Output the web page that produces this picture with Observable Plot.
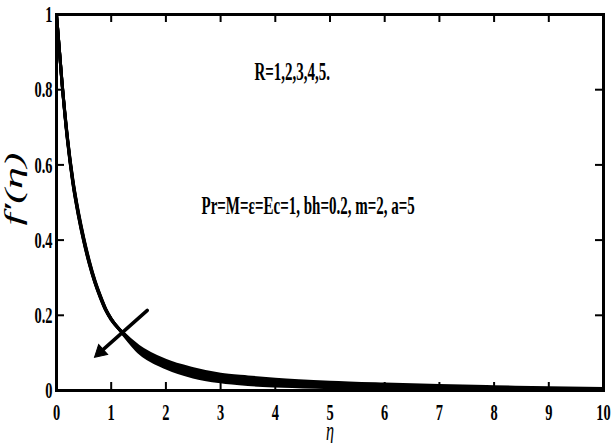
<!DOCTYPE html>
<html><head><meta charset="utf-8">
<script src="https://cdn.jsdelivr.net/npm/d3@7"></script>
<script src="https://cdn.jsdelivr.net/npm/@observablehq/plot@0.6"></script>
<style>html,body{margin:0;padding:0;background:#fff}#chart{width:613px;height:443px}</style>
</head><body><div id="chart"></div>
<script>
// ---- data ----
const eta = [0,0.1,0.2,0.3,0.4,0.5,0.6,0.7,0.8,0.9,1.0,1.2,1.5,2,2.5,3,3.5,4,5,6,7,8,9,10];
const fR1 = [1,0.818,0.665,0.55,0.465,0.395,0.336,0.287,0.247,0.213,0.188,0.156,0.118,0.080,0.058,0.043,0.036,0.030,0.022,0.017,0.013,0.010,0.007,0.005];
const fR2 = [1,0.819,0.667,0.552,0.467,0.397,0.338,0.289,0.249,0.214,0.189,0.155,0.114,0.075,0.052,0.037,0.030,0.024,0.017,0.012,0.009,0.007,0.005,0.003];
const fR3 = [1,0.820,0.670,0.555,0.470,0.400,0.340,0.290,0.250,0.215,0.190,0.155,0.110,0.070,0.046,0.032,0.025,0.019,0.013,0.009,0.007,0.005,0.003,0.002];
const fR4 = [1,0.821,0.672,0.557,0.472,0.402,0.342,0.292,0.251,0.216,0.190,0.154,0.106,0.065,0.041,0.027,0.020,0.015,0.010,0.007,0.005,0.003,0.002,0.001];
const fR5 = [1,0.822,0.674,0.560,0.475,0.405,0.345,0.294,0.253,0.217,0.191,0.153,0.102,0.060,0.036,0.023,0.016,0.012,0.008,0.005,0.003,0.002,0.001,0.0005];
const seriesR = [1,2,3,4,5];
const xTicks = [0,1,2,3,4,5,6,7,8,9,10];
const xTickLabels = ["0","1","2","3","4","5","6","7","8","9","10"];
const yTicks = [0,0.2,0.4,0.6,0.8,1];
const yTickLabels = ["0","0.2","0.4","0.6","0.8","1"];
const annotR = "R=1,2,3,4,5.";
const annotParams = "Pr=M=\u03b5=Ec=1, bh=0.2, m=2, a=5";
const arrowStart = {eta: 1.66, f: 0.213};
const arrowEnd = {eta: 0.80, f: 0.102};
const xLabel = "\u03b7";
const yLabel = "f\u2032(\u03b7)";

// ---- build table ----
const allF = [fR1, fR2, fR3, fR4, fR5];
const rows = [];
allF.forEach((vals, k) => vals.forEach((v, i) => rows.push({eta: eta[i], f: v, R: seriesR[k]})));

const serif = '"Liberation Serif", "Times New Roman", serif';
const svg = Plot.plot({
  width: 613, height: 443,
  marginLeft: 56, marginRight: 10, marginTop: 14, marginBottom: 53,
  style: {fontFamily: serif, fontWeight: "bold", background: "#fff", color: "#000"},
  x: {domain: [0, 10]},
  y: {domain: [0, 1]},
  marks: [
    Plot.line(rows, {x: "eta", y: "f", z: "R", stroke: "#000", strokeWidth: 3, curve: "monotone-x"}),
    Plot.arrow([0], {x1: () => arrowStart.eta, y1: () => arrowStart.f, x2: () => arrowEnd.eta, y2: () => arrowEnd.f,
      stroke: "#000", strokeWidth: 3.5, headLength: 0}),
    Plot.dot([0], {x: () => arrowEnd.eta, y: () => arrowEnd.f, symbol: "triangle", r: 5, rotate: 228, fill: "#000", stroke: "#000", strokeWidth: 1}),
    Plot.tickX(xTicks, {x: d => d, insetTop: 368, stroke: "#000", strokeWidth: 2}),
    Plot.tickX(xTicks, {x: d => d, insetBottom: 368, stroke: "#000", strokeWidth: 2}),
    Plot.tickY(yTicks, {y: d => d, insetRight: 539, stroke: "#000", strokeWidth: 2}),
    Plot.tickY(yTicks, {y: d => d, insetLeft: 539, stroke: "#000", strokeWidth: 2}),
    Plot.frame({stroke: "#000", strokeWidth: 3}),
    Plot.axisX({ticks: xTicks, tickSize: 0, tickPadding: 12, fontSize: 24,
      tickFormat: d => xTickLabels[xTicks.indexOf(d)], label: null}),
    Plot.axisY({ticks: yTicks, tickSize: 0, tickPadding: 4, fontSize: 24,
      tickFormat: d => yTickLabels[yTicks.indexOf(d)], label: null}),
    Plot.text([annotR], {x: () => 4.31, y: () => 0.846, text: d => d, fontSize: 25}),
    Plot.text([annotParams], {x: () => 4.6, y: () => 0.492, text: d => d, fontSize: 25}),
    Plot.text([xLabel], {x: () => 5, frameAnchor: "bottom", lineAnchor: "middle", dy: 41, text: d => d, fontSize: 27, fontStyle: "italic", fontWeight: "normal"}),
    Plot.text([yLabel], {frameAnchor: "left", textAnchor: "middle", lineAnchor: "middle", text: d => d, fontSize: 44, fontStyle: "italic", fontWeight: "normal"})
  ]
});
document.getElementById("chart").append(svg);

// emulate the horizontally condensed lettering of the original figure
svg.querySelectorAll("text").forEach(t => {
  if (t.textContent === yLabel) {
    const g = t.parentNode;
    if (g && g.removeAttribute) g.removeAttribute("transform");
    t.removeAttribute("x"); t.removeAttribute("y");
    t.setAttribute("text-anchor", "middle");
    t.setAttribute("transform", "translate(22,189) rotate(-90) scale(1,0.58)");
    return;
  }
  const L = t.getComputedTextLength();
  if (L > 0) {
    t.setAttribute("textLength", (L * 0.6).toFixed(1));
    t.setAttribute("lengthAdjust", "spacingAndGlyphs");
  }
});
</script>
</body></html>
